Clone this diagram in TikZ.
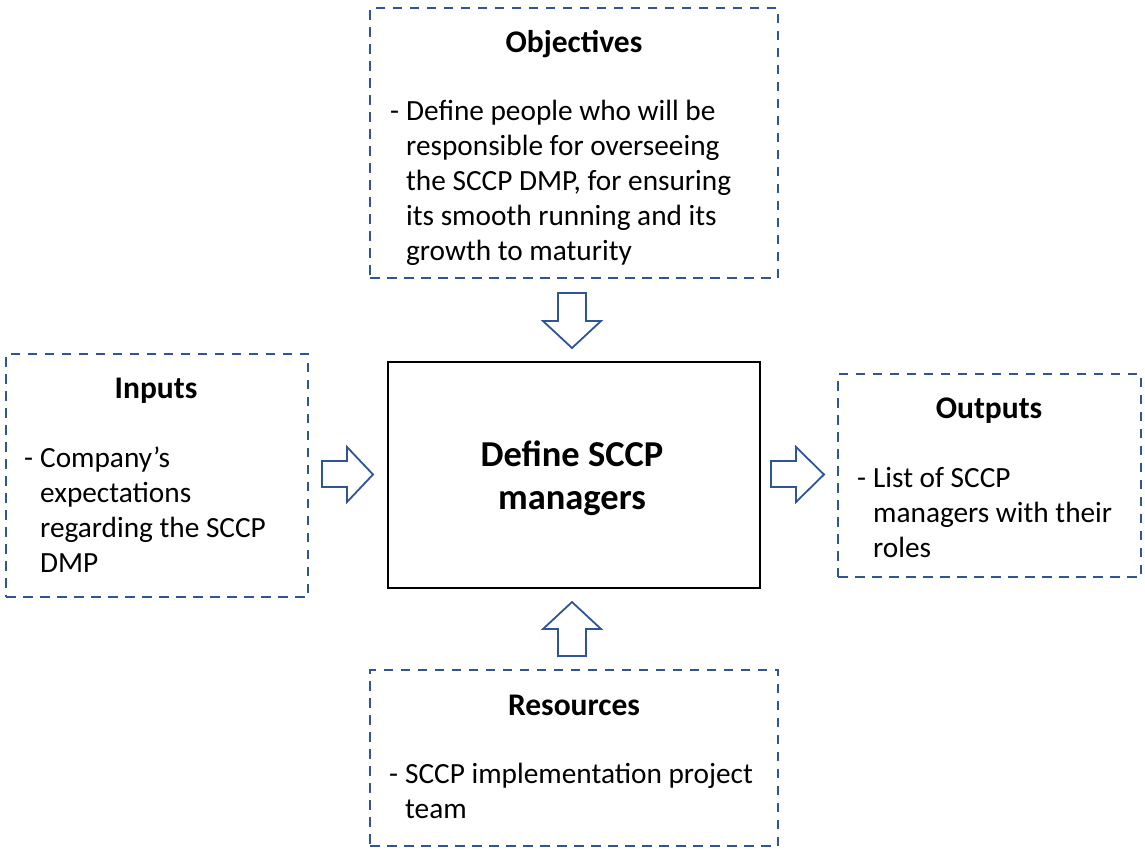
\documentclass[tikz,border=0pt]{standalone}
\usepackage{fontspec}
\setmainfont{Carlito}
\definecolor{dblue}{RGB}{47,85,151}
\newcommand\bullist[1]{\begin{tabular}[t]{@{}l@{\hspace{7pt}}l@{}}#1\end{tabular}}
\begin{document}
\begin{tikzpicture}[x=1pt,y=-1pt,
  dbox/.style={draw=dblue, line width=2.3pt, dash pattern=on 9.5pt off 7.5pt, inner sep=0pt, anchor=north west},
  mainbox/.style={draw=black, line width=2pt, inner sep=0pt, anchor=north west},
  head/.style={font=\fontsize{31.5}{38}\selectfont\bfseries, inner sep=0pt, anchor=base},
  body/.style={font=\fontsize{29.3}{35}\selectfont, inner sep=0pt, anchor=base west},
  title/.style={font=\fontsize{36.5}{43}\selectfont\bfseries, inner sep=0pt, anchor=base},
  barrow/.style={draw=dblue, line width=1.8pt, fill=white, line join=miter}]
\useasboundingbox (0,0) rectangle (1145,849);
% boxes
\node[dbox, minimum width=408pt, minimum height=270pt] (obj) at (369,7) {};
\node[dbox, minimum width=302pt, minimum height=243pt] (inp) at (5,353) {};
\node[dbox, minimum width=303pt, minimum height=203pt] (out) at (837,373) {};
\node[dbox, minimum width=408pt, minimum height=176pt] (res) at (369,669) {};
\node[mainbox, minimum width=372pt, minimum height=226pt] (ctr) at (387,361) {};
% headings
\node[head] (objh) at (574,52) {Objectives};
\node[head] (inph) at (156,398) {Inputs};
\node[head] (outh) at (989,418) {Outputs};
\node[head] (resh) at (574,715) {Resources};
% centre title
\node[title] (ctrt) at (572,466) {\begin{tabular}[t]{@{}c@{}}Define SCCP\\managers\end{tabular}};
% body texts
\node[body] (objb) at (390,120) {\bullist{- & Define people who will be\\ & responsible for overseeing\\ & the SCCP DMP, for ensuring\\ & its smooth running and its\\ & growth to maturity}};
\node[body] (inpb) at (24,467) {\bullist{- & Company’s\\ & expectations\\ & regarding the SCCP\\ & DMP}};
\node[body] (outb) at (857,487) {\bullist{- & List of SCCP\\ & managers with their\\ & roles}};
\node[body] (resb) at (389,783) {\bullist{- & SCCP implementation project\\ & team}};
% block arrows
\draw[barrow] (558,293) -- (586,293) -- (586,321) -- (601,321) -- (572,348) -- (543,321) -- (558,321) -- cycle;
\draw[barrow] (558,656) -- (586,656) -- (586,629) -- (601,629) -- (572,602) -- (543,629) -- (558,629) -- cycle;
\draw[barrow] (322,461) -- (347,461) -- (347,447) -- (373,474.5) -- (347,502) -- (347,487) -- (322,487) -- cycle;
\draw[barrow] (771,461) -- (796,461) -- (796,447) -- (824,474.5) -- (796,502) -- (796,487) -- (771,487) -- cycle;
\end{tikzpicture}
\end{document}
